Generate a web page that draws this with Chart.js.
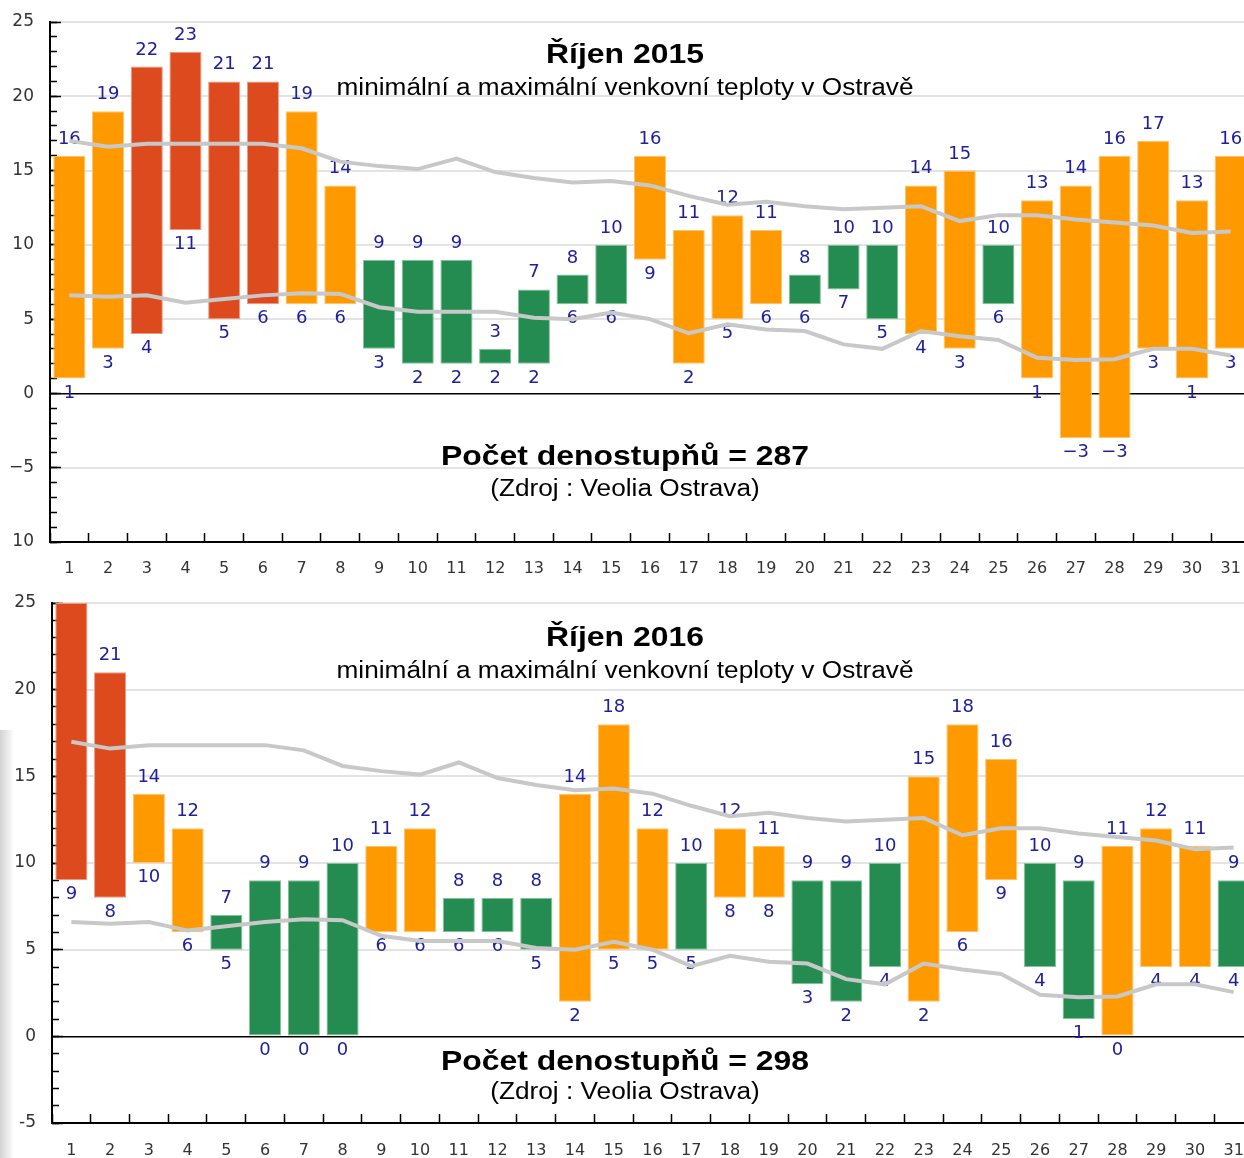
<!DOCTYPE html>
<html>
<head>
<meta charset="utf-8">
<script src="https://cdn.jsdelivr.net/npm/chart.js@4.4.1/dist/chart.umd.min.js"></script>
<style>
html,body{margin:0;padding:0;background:#fff;overflow:hidden;width:1244px;height:1158px;}
#wrap{position:relative;width:1244px;height:1158px;overflow:hidden;}
canvas{position:absolute;left:0;}
#c1{top:0;}
#c2{top:588px;}
#shade{position:absolute;left:0;top:730px;width:14px;height:428px;background:linear-gradient(to right,#d2d2d2,rgba(255,255,255,0));}
</style>
</head>
<body>
<div id="wrap">
<div id="shade"></div>
<canvas id="c1" width="1270" height="587"></canvas>
<canvas id="c2" width="1273" height="570"></canvas>
</div>
<script>
// days of month
var days = [];
for (var d = 1; d <= 31; d++) days.push(String(d));

// October 2015 - daily max / min
var max2015 = [16, 19, 22, 23, 21, 21, 19, 14, 9, 9, 9, 3, 7, 8, 10, 16, 11, 12, 11, 8, 10, 10, 14, 15, 10, 13, 14, 16, 17, 13, 16];
var min2015 = [1, 3, 4, 11, 5, 6, 6, 6, 3, 2, 2, 2, 2, 6, 6, 9, 2, 5, 6, 6, 7, 5, 4, 3, 6, 1, -3, -3, 3, 1, 3];

// October 2016 - daily max / min
var max2016 = [25, 21, 14, 12, 7, 9, 9, 10, 11, 12, 8, 8, 8, 14, 18, 12, 10, 12, 11, 9, 9, 10, 15, 18, 16, 10, 9, 11, 12, 11, 9];
var min2016 = [9, 8, 10, 6, 5, 0, 0, 0, 6, 6, 6, 6, 5, 2, 5, 5, 5, 8, 8, 3, 2, 4, 2, 6, 9, 4, 1, 0, 4, 4, 4];

// long-term averages (grey lines)
var normMax = [17.0, 16.6, 16.8, 16.8, 16.8, 16.8, 16.5, 15.6, 15.3, 15.1, 15.8, 14.9, 14.5, 14.2, 14.3, 14.0, 13.3, 12.7, 12.9, 12.6, 12.4, 12.5, 12.6, 11.6, 12.0, 12.0, 11.7, 11.5, 11.3, 10.8, 10.9];
var normMin = [6.6, 6.5, 6.6, 6.1, 6.35, 6.6, 6.75, 6.7, 5.8, 5.5, 5.5, 5.5, 5.1, 5.0, 5.45, 5.0, 4.05, 4.65, 4.3, 4.2, 3.3, 3.0, 4.2, 3.85, 3.6, 2.4, 2.25, 2.3, 3.0, 3.0, 2.55];

// y axis tick labels
var yVals2015 = [25, 20, 15, 10, 5, 0, -5, -10];
var yLabels2015 = ['25', '20', '15', '10', '5', '0', '\u22125', '10'];
var yVals2016 = [25, 20, 15, 10, 5, 0, -5];
var yLabels2016 = ['25', '20', '15', '10', '5', '0', '-5'];

var texts2015 = ['\u0158\u00edjen 2015', 'minim\u00e1ln\u00ed a maxim\u00e1ln\u00ed venkovn\u00ed teploty v Ostrav\u011b', 'Po\u010det denostup\u0148\u016f = 287', '(Zdroj : Veolia Ostrava)'];
var texts2016 = ['\u0158\u00edjen 2016', 'minim\u00e1ln\u00ed a maxim\u00e1ln\u00ed venkovn\u00ed teploty v Ostrav\u011b', 'Po\u010det denostup\u0148\u016f = 298', '(Zdroj : Veolia Ostrava)'];

var colors = {
    red: '#dc4a1d', redEdge: '#ee9a80',
    orange: '#ff9900', orangeEdge: '#ffc46e',
    green: '#248c50', greenEdge: '#86c29c',
    norm: '#c8c8c8',
    label: '#20209c'
};

function fillFor(mx){ return mx >= 20 ? colors.red : (mx > 10 ? colors.orange : colors.green); }
function edgeFor(mx){ return mx >= 20 ? colors.redEdge : (mx > 10 ? colors.orangeEdge : colors.greenEdge); }

var valueLabels = {
    id: 'valueLabels',
    afterDatasetDraw: function(chart, args){
        if (args.index !== 0) return;
        var o = chart.options.plugins.valueLabels, ys = chart.scales.y, xs = chart.scales.x, ctx = chart.ctx;
        ctx.save();
        ctx.font = '18px "DejaVu Sans"';
        ctx.fillStyle = colors.label;
        ctx.textAlign = 'center';
        ctx.textBaseline = 'alphabetic';
        for (var i = 0; i < o.max.length; i++) {
            var x = xs.getPixelForValue(i);
            if (o.max[i] < ys.max) ctx.fillText(String(o.max[i]), x, ys.getPixelForValue(o.max[i]) - 12);
            var s = o.min[i] < 0 ? '\u2212' + (-o.min[i]) : String(o.min[i]);
            ctx.fillText(s, x, ys.getPixelForValue(o.min[i]) + 19);
        }
        ctx.restore();
    }
};

var panelTexts = {
    id: 'panelTexts',
    afterDraw: function(chart){
        var o = chart.options.plugins.panelTexts, ctx = chart.ctx;
        var fonts = ['bold 28px "Liberation Sans"', '23px "Liberation Sans"', 'bold 28px "Liberation Sans"', '23px "Liberation Sans"'];
        ctx.save();
        ctx.fillStyle = '#000';
        ctx.textAlign = 'center';
        ctx.textBaseline = 'alphabetic';
        for (var i = 0; i < o.texts.length; i++) {
            ctx.save();
            ctx.font = fonts[i];
            ctx.translate(o.cx, o.ys[i]);
            ctx.scale(1.14, 1);
            ctx.fillText(o.texts[i], 0, 0);
            ctx.restore();
        }
        ctx.restore();
    }
};

// zero-width axis sitting on the chart's left edge, only for the inward tick marks
function tickAxis(yMin, step, len){
    return {
        weight: 0,
        position: 'left',
        min: yMin, max: 25,
        ticks: { display: false, stepSize: step },
        grid: { drawOnChartArea: false, tickLength: -len, tickColor: '#000', tickWidth: 1.5 },
        border: { display: false },
        afterFit: function(s){ s.width = 0; }
    };
}

function makeChart(el, mx, mn, yMin, yVals, yLabels, cfg){
    return new Chart(el.getContext('2d'), {
        type: 'bar',
        data: {
            labels: days,
            datasets: [{
                data: mn.map(function(v, i){ return [v, mx[i]]; }),
                backgroundColor: mx.map(fillFor),
                borderColor: mx.map(edgeFor),
                borderWidth: 1,
                borderSkipped: false,
                barPercentage: 0.83,
                categoryPercentage: 1,
                order: 2
            }, {
                type: 'line',
                data: normMax,
                borderColor: colors.norm,
                borderWidth: 4,
                pointRadius: 0,
                tension: 0,
                order: 1
            }, {
                type: 'line',
                data: normMin,
                borderColor: colors.norm,
                borderWidth: 4,
                pointRadius: 0,
                tension: 0,
                order: 1
            }]
        },
        options: {
            responsive: false,
            animation: false,
            devicePixelRatio: 1,
            layout: { padding: { top: cfg.padTop, right: 20, left: 0, bottom: 0 } },
            plugins: {
                legend: { display: false },
                tooltip: { enabled: false },
                valueLabels: { max: mx, min: mn },
                panelTexts: { texts: cfg.texts, cx: 625, ys: cfg.textY }
            },
            scales: {
                x: {
                    offset: true,
                    grid: { offset: true, drawOnChartArea: false, tickLength: -9, tickColor: '#000', tickWidth: 1.5 },
                    border: { color: '#000', width: 2 },
                    ticks: { font: { family: 'DejaVu Sans', size: 16 }, color: '#333', padding: cfg.xPad, maxRotation: 0, autoSkip: false },
                    afterFit: function(s){ s.height = cfg.xHeight; }
                },
                y: {
                    weight: 1,
                    min: yMin, max: 25,
                    afterBuildTicks: function(s){ s.ticks = yVals.map(function(v){ return { value: v }; }); },
                    ticks: {
                        font: { family: 'DejaVu Sans', size: 17 }, color: '#333', padding: 0,
                        callback: function(v){ return yLabels[yVals.indexOf(v)]; }
                    },
                    grid: {
                        color: function(c){ return c.tick && c.tick.value === 0 ? '#000' : '#e3e3e3'; },
                        lineWidth: function(c){ return c.tick && c.tick.value === 0 ? 1.5 : 2; },
                        tickColor: 'rgba(0,0,0,0)', tickLength: 16
                    },
                    border: { color: '#000', width: 2 },
                    afterFit: function(s){ s.width = cfg.yWidth; }
                },
                yMajor: tickAxis(yMin, 5, 11),
                yMinor: tickAxis(yMin, 1, 7)
            }
        },
        plugins: [valueLabels, panelTexts]
    });
}

makeChart(document.getElementById('c1'), max2015, min2015, -10, yVals2015, yLabels2015, {
    padTop: 22, xHeight: 45, xPad: 26, yWidth: 50,
    texts: texts2015, textY: [63, 95, 465, 496]
});
makeChart(document.getElementById('c2'), max2016, min2016, -5, yVals2016, yLabels2016, {
    padTop: 15, xHeight: 35, xPad: 27, yWidth: 52,
    texts: texts2016, textY: [58, 90, 482, 511]
});
</script>
</body>
</html>
